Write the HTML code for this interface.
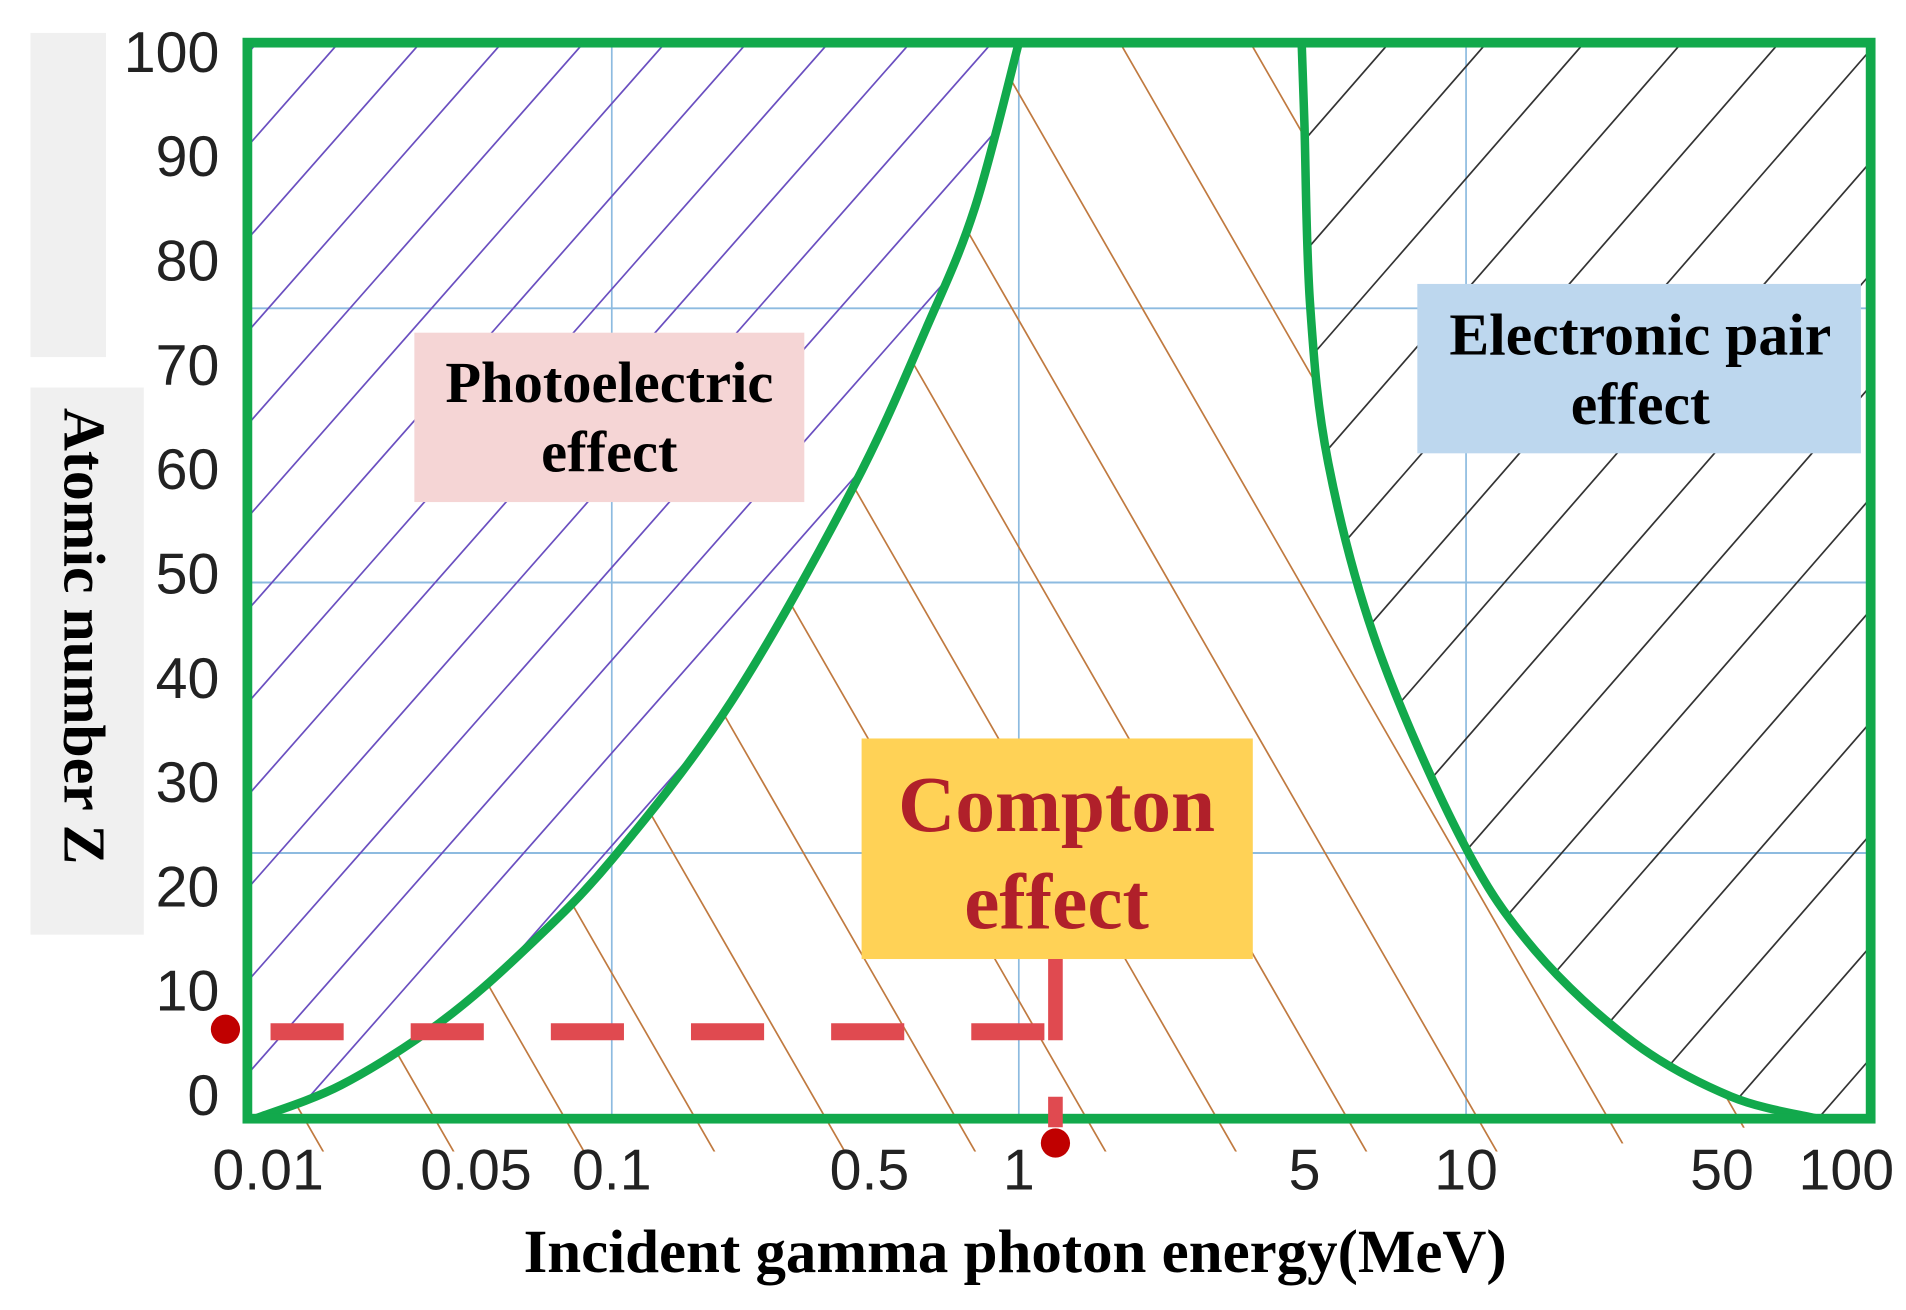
<!DOCTYPE html>
<html><head><meta charset="utf-8"><style>
html,body{margin:0;padding:0;background:#fff;}
svg{display:block;}
</style></head><body>
<svg id="chart" width="1906" height="1310" viewBox="0 0 1564 1075" preserveAspectRatio="none" xmlns="http://www.w3.org/2000/svg">
<rect x="25" y="27" width="62" height="266" fill="#f0f0f0"/>
<rect x="25" y="318" width="93" height="449" fill="#f0f0f0"/>
<text transform="translate(53,522) rotate(90)" text-anchor="middle" font-family="Liberation Serif, serif" font-weight="bold" font-size="49" fill="#000">Atomic number Z</text>
<g id="grid"></g>
<defs id="defs"></defs>
<g id="hatch"></g>
<g id="curves"></g>
<rect x="203" y="35" width="1332" height="883" fill="none" stroke="#12a94c" stroke-width="8"/>
<g id="ticks"></g>
<rect x="340" y="273" width="320" height="139" fill="#f5d5d5"/>
<text x="500" y="330" text-anchor="middle" font-family="Liberation Serif, serif" font-weight="bold" font-size="48" fill="#000">Photoelectric</text>
<text x="500" y="387" text-anchor="middle" font-family="Liberation Serif, serif" font-weight="bold" font-size="48" fill="#000">effect</text>
<rect x="1163" y="233" width="364" height="139" fill="#bdd7ee"/>
<text x="1346" y="291" text-anchor="middle" font-family="Liberation Serif, serif" font-weight="bold" font-size="49" fill="#000">Electronic pair</text>
<text x="1346" y="348" text-anchor="middle" font-family="Liberation Serif, serif" font-weight="bold" font-size="49" fill="#000">effect</text>
<rect x="707" y="606" width="321" height="181" fill="#ffd256"/>
<text x="867" y="682" text-anchor="middle" font-family="Liberation Serif, serif" font-weight="bold" font-size="65" fill="#b0202a">Compton</text>
<text x="867" y="762" text-anchor="middle" font-family="Liberation Serif, serif" font-weight="bold" font-size="65" fill="#b0202a">effect</text>
<g id="marker"></g>
<text x="833" y="1044" text-anchor="middle" font-family="Liberation Serif, serif" font-weight="bold" font-size="50" fill="#000">Incident gamma photon energy(MeV)</text>
</svg>
<script>
const xTickLabels = ["0.01","0.05","0.1","0.5","1","5","10","50","100"];
const xTickValues = [0.01,0.05,0.1,0.5,1,5,10,50,100];
const yTickValues = [0,10,20,30,40,50,60,70,80,90,100];
const photoE = [0.0104,0.0179,0.0333,0.0572,0.1,0.197,0.392,0.592,0.78,1.0];
const photoZ = [-2.3,0.9,6.8,13.8,22.5,37.7,58.2,73.4,85,100.8];
const pairE = [4.29,4.35,4.48,4.92,6.33,9.8,14.8,25.9,45.1,73.1];
const pairZ = [100.8,93.2,75.7,60.5,43,24.3,13.8,5.0,-0.2,-2.3];
const markerE = 1.2;
const markerZ = 6.0;

const NS="http://www.w3.org/2000/svg";
const decLog=[-2,-1,0,1,2], decPx=[205,502,836,1203,1535];
function xs(E){const l=Math.log10(E);let i=0;while(i<decLog.length-2&&l>decLog[i+1])i++;
 return decPx[i]+(l-decLog[i])/(decLog[i+1]-decLog[i])*(decPx[i+1]-decPx[i]);}
function ys(Z){return 898-Z*8.56;}
function mk(tag,attrs,parent){const e=document.createElementNS(NS,tag);for(const k in attrs)e.setAttribute(k,attrs[k]);parent.appendChild(e);return e;}
function smooth(pts){let d="M"+pts[0][0]+","+pts[0][1];
 for(let i=0;i<pts.length-1;i++){const p0=pts[i-1]||pts[i],p1=pts[i],p2=pts[i+1],p3=pts[i+2]||p2;
  d+=" C"+(p1[0]+(p2[0]-p0[0])/6)+","+(p1[1]+(p2[1]-p0[1])/6)+" "+(p2[0]-(p3[0]-p1[0])/6)+","+(p2[1]-(p3[1]-p1[1])/6)+" "+p2[0]+","+p2[1];}
 return d;}
const p1=photoE.map((e,i)=>[xs(e),Math.max(35,ys(photoZ[i]))]);
const p2=pairE.map((e,i)=>[xs(e),Math.max(35,ys(pairZ[i]))]);
const grid=document.getElementById('grid');
[253,478,700].forEach(y=>{const l=mk('line',{x1:203,x2:1535,y1:y,y2:y,stroke:'#8dbbe0','stroke-width':1.6},grid);
});
[0.1,1,10].forEach(v=>{const l=mk('line',{x1:xs(v),x2:xs(v),y1:35,y2:918,stroke:'#8dbbe0','stroke-width':1.4},grid);
});
const defs=document.getElementById('defs');
const c1=mk('clipPath',{id:'cPhoto'},defs);
mk('path',{d:"M203,918 L203,35 L"+p1[p1.length-1][0]+",35 "+smooth(p1.slice().reverse()).replace('M','L')+" Z"},c1);
const c2=mk('clipPath',{id:'cComp'},defs);
mk('path',{d:smooth(p1)+" L"+p2[0][0]+",35 "+smooth(p2).replace('M','L')+" L1280,945 L210,945 Z"},c2);
const c3=mk('clipPath',{id:'cPair'},defs);
mk('path',{d:smooth(p2)+" L1535,918 L1535,35 Z"},c3);
const hatch=document.getElementById('hatch');
function hatchLines(clip,color,dx,dy,spacing,name,offset){const g=mk('g',{'clip-path':'url(#'+clip+')'},hatch);
 
 for(let c=-2000+offset;c<3500;c+=spacing){mk('line',{x1:c,y1:35,x2:c+dx*1000,y2:35+dy*1000,stroke:color,'stroke-width':1.4},g);}}
hatchLines('cPhoto','#6a4fc0',-0.88,1,67,'photo-hatch',0);
hatchLines('cComp','#c07a40',0.575,1,107,'compton-hatch',30);
hatchLines('cPair','#333',-0.87,1,80,'pair-hatch',20);
const cur=document.getElementById('curves');
let a=mk('path',{d:smooth(p1),fill:'none',stroke:'#12a94c','stroke-width':7},cur);

a=mk('path',{d:smooth(p2),fill:'none',stroke:'#12a94c','stroke-width':7},cur);

const tk=document.getElementById('ticks');
yTickValues.forEach(v=>{const t=mk('text',{x:180,y:ys(v)+17,'text-anchor':'end','font-family':'Liberation Sans, sans-serif','font-size':47,fill:'#222'},tk);
t.textContent=v;});
xTickValues.forEach((v,i)=>{let x=xs(v);if(xTickLabels[i].indexOf('5')>=0)x-=22;if(i==0)x=220;if(i==8)x=1515;
const t=mk('text',{x:x,y:976,'text-anchor':'middle','font-family':'Liberation Sans, sans-serif','font-size':47,fill:'#222'},tk);
t.textContent=xTickLabels[i];});
const mg=document.getElementById('marker');
const mx=xs(markerE)+1, my=ys(markerZ);
let e=mk('line',{x1:222,y1:my,x2:mx,y2:my,stroke:'#e04a50','stroke-width':14,'stroke-dasharray':'60 55'},mg);

e=mk('line',{x1:mx,y1:787,x2:mx,y2:my+7,stroke:'#e04a50','stroke-width':12},mg);

e=mk('line',{x1:mx,y1:900,x2:mx,y2:925,stroke:'#e04a50','stroke-width':12},mg);

e=mk('circle',{cx:185,cy:my-2,r:12,fill:'#c00000'},mg);

e=mk('circle',{cx:mx,cy:938,r:12,fill:'#c00000'},mg);

</script>
</body></html>
